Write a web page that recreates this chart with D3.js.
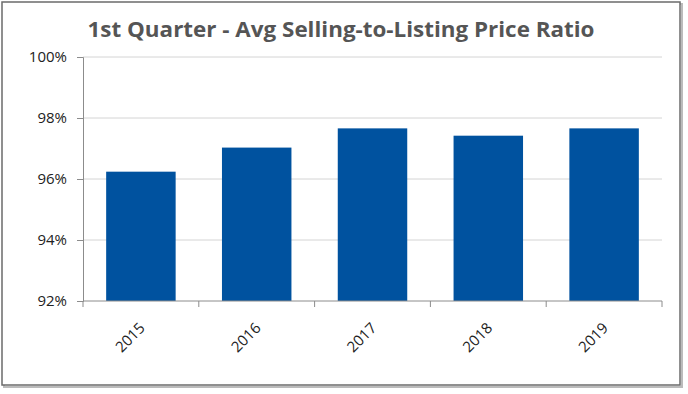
<!DOCTYPE html>
<html>
<head>
<meta charset="utf-8">
<script src="https://cdn.jsdelivr.net/npm/d3@7"></script>
<style>
  body { margin: 0; background: #fff; }
  text { font-family: "Open Sans", sans-serif; }
</style>
</head>
<body>
<div id="chart"></div>
<script>
const years = ["2015", "2016", "2017", "2018", "2019"];
const ratios = [96.24, 97.03, 97.66, 97.42, 97.66];
const yTicks = [92, 94, 96, 98, 100];
const title = "1st Quarter - Avg Selling-to-Listing Price Ratio";

const W = 688, H = 394;
const margin = { top: 57, right: 26, bottom: 93, left: 83 };
const width = W - margin.left - margin.right;
const height = H - margin.top - margin.bottom;

const svg = d3.select("#chart").append("svg")
    .attr("width", W)
    .attr("height", H);

// frame with a soft shadow
svg.append("rect")
    .attr("x", 4).attr("y", 4)
    .attr("width", 678).attr("height", 383)
    .attr("fill", "none")
    .attr("stroke", "#bbb")
    .attr("stroke-width", 2);
svg.append("rect")
    .attr("x", 2).attr("y", 2)
    .attr("width", 678).attr("height", 383)
    .attr("fill", "#fff")
    .attr("stroke", "#6b6b6b")
    .attr("stroke-width", 1.5);

svg.append("text")
    .attr("x", 341).attr("y", 37)
    .attr("text-anchor", "middle")
    .attr("font-size", 21)
    .attr("font-weight", "bold")
    .attr("fill", "#555")
    .attr("textLength", 507)
    .attr("lengthAdjust", "spacingAndGlyphs")
    .text(title);

const g = svg.append("g")
    .attr("transform", `translate(${margin.left},${margin.top})`);

const x = d3.scaleBand().domain(years).range([0, width]).paddingInner(0.4).paddingOuter(0.2);
const xTicks = d3.scaleBand().domain(years).range([0, width]);
const y = d3.scaleLinear().domain([92, 100]).range([height, 0]);

// gridlines
g.append("g")
    .selectAll("line")
    .data(yTicks.slice(1))
    .join("line")
    .attr("x1", 0).attr("x2", width)
    .attr("y1", d => y(d)).attr("y2", d => y(d))
    .attr("stroke", "#d4d4d4")
    .attr("stroke-width", 1);

g.append("g")
    .selectAll("rect")
    .data(ratios)
    .join("rect")
    .attr("x", (d, i) => x(years[i]))
    .attr("y", d => y(d))
    .attr("width", x.bandwidth())
    .attr("height", d => height - y(d))
    .attr("fill", "#00529f");

// y axis
const yAxis = g.append("g")
    .attr("font-size", 15)
    .call(d3.axisLeft(y).tickValues(yTicks).tickFormat(d => d + "%").tickSize(6).tickPadding(10));
yAxis.attr("font-size", 15).attr("font-family", "'Open Sans', sans-serif");
yAxis.select(".domain").attr("stroke", "#8c8c8c");
yAxis.selectAll(".tick line").attr("stroke", "#8c8c8c");
yAxis.selectAll(".tick text").style("font-size", "15px").attr("fill", "#222");

// x axis with ticks at band edges
const xAxis = g.append("g").attr("transform", `translate(0,${height})`);
xAxis.append("line")
    .attr("x1", 0).attr("x2", width)
    .attr("stroke", "#8c8c8c");
xAxis.selectAll("line.tk")
    .data(years.concat(["end"]))
    .join("line")
    .attr("class", "tk")
    .attr("x1", (d, i) => i < years.length ? xTicks(d) : width)
    .attr("x2", (d, i) => i < years.length ? xTicks(d) : width)
    .attr("y1", 0).attr("y2", 6)
    .attr("stroke", "#8c8c8c");
xAxis.selectAll("text")
    .data(years)
    .join("text")
    .attr("transform", d => `translate(${xTicks(d) + xTicks.bandwidth() / 2 + 5},${28}) rotate(-45)`)
    .attr("text-anchor", "end")
    .style("font-size", "15px")
    .attr("fill", "#222")
    .text(d => d);
</script>
</body>
</html>
